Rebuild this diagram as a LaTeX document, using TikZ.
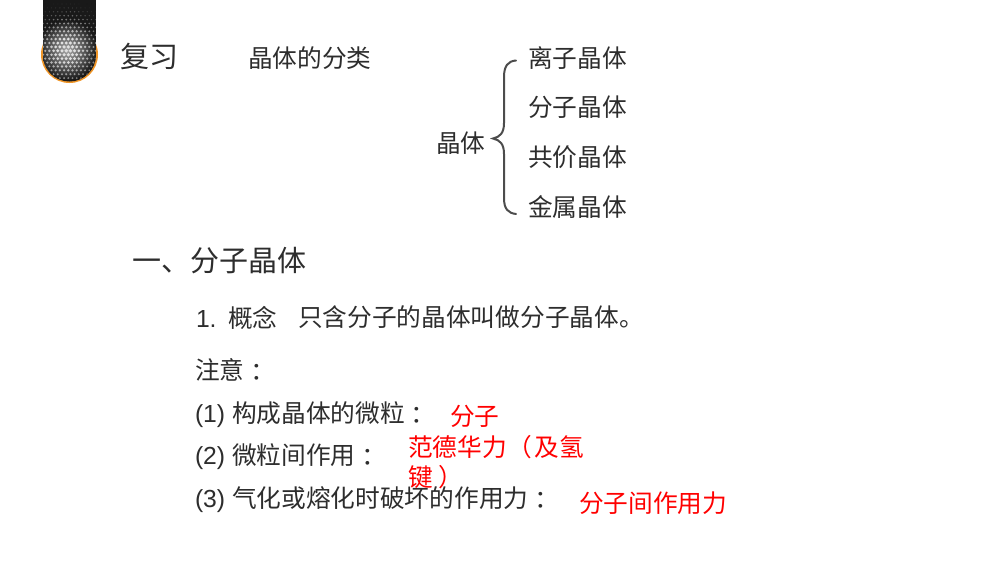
\documentclass[tikz,border=0pt]{standalone}
\usepackage{fontspec}
\setmainfont{Liberation Sans}
\newfontfamily\cjk{Noto Sans CJK SC}
\newfontfamily\cjktc{Noto Sans CJK TC}
\newcommand{\fwcolon}{\raisebox{-2.5pt}{\cjktc\char"FF1A\relax}}
\newcommand{\fwopen}{{\cjk\kern1pt\char"FF08\relax\kern2pt}}
\newcommand{\fwclose}{{\cjk\kern6pt\char"FF09\relax}}
\usetikzlibrary{calc}
\definecolor{ink}{RGB}{45,45,45}
\definecolor{ans}{RGB}{255,0,0}
\definecolor{ring}{RGB}{240,150,40}
\tikzset{
  txt/.style={anchor=base west,inner sep=0pt,outer sep=0pt,text=ink,font=\fontsize{24.7}{30}\selectfont\cjk},
  big/.style={txt,font=\fontsize{29}{34}\selectfont\cjk},
  mid/.style={txt,font=\fontsize{24.7}{30}\selectfont},
  red/.style={txt,text=ans},
  brace/.style={draw=ink!85!white,line width=2pt,line cap=round}
}
\begin{document}
\begin{tikzpicture}[x=1pt,y=-1pt]
\useasboundingbox (0,0) rectangle (1000,563);
% icon
\fill[ring] (69.5,54.5) circle (28.5);
\begin{scope}
\clip (43,0) -- (96,0) -- (96,55) arc[start angle=0,end angle=180,radius=26.5] -- cycle;
\fill[black!90] (43,0) rectangle (96,85);
\shade[inner color=black!35,outer color=black!90] (67,50) circle (30);
\foreach \r in {0,...,20}{
  \foreach \c in {0,...,14}{
    \pgfmathsetmacro{\px}{41+\c*4.2+mod(\r,2)*2.1}
    \pgfmathsetmacro{\py}{4+\r*3.9}
    \pgfmathsetmacro{\d}{sqrt((\px-67)^2+(\py-50)^2)}
    \pgfmathsetmacro{\b}{max(0,min(88,110-\d*2))}
    \pgfmathsetmacro{\s}{max(0.3,1.9-\d*0.03)}
    \fill[white!\b!black] (\px,\py) circle (\s);
  }
}
\end{scope}
% heading row
\node[big] (revise) at (120,67) {复习};
\node[txt] (cls) at (248,67) {晶体的分类};
\node[txt] (root) at (436,152) {晶体};
\node[txt] (k1) at (528,67) {离子晶体};
\node[txt] (k2) at (528,116) {分子晶体};
\node[txt] (k3) at (528,166) {共价晶体};
\node[txt] (k4) at (528,216) {金属晶体};
\draw[brace] (516,60.5) .. controls (508,61) and (504,66) .. (504,77)
  -- (504,123) .. controls (504,133) and (500,137) .. (493,138.5)
  .. controls (500,140) and (504,144) .. (504,154)
  -- (504,198) .. controls (504,209) and (508,213) .. (516,214);
\node[big] (sec) at (132,271) {一、分子晶体};
\node[mid] (n1) at (196,327) {1.};
\node[txt] (n1t) at (228,327) {概念};
\node[txt] (def) at (298,326) {只含分子的晶体叫做分子晶体。};
\node[txt] (note) at (195,379) {注意\fwcolon};
\node[txt] (i1) at (195,422) {{\rmfamily (1) }构成晶体的微粒\fwcolon};
\node[txt] (i2) at (195,464) {{\rmfamily (2) }微粒间作用\fwcolon};
\node[txt] (i3) at (195,507) {{\rmfamily (3) }气化或熔化时破坏的作用力\fwcolon};
\node[red] (a1) at (450,425) {分子};
\node[red] (a2) at (408,456) {范德华力\fwopen 及氢};
\node[red] (a2b) at (408,486) {键\fwclose};
\node[red] (a3) at (579,512) {分子间作用力};
\end{tikzpicture}
\end{document}
